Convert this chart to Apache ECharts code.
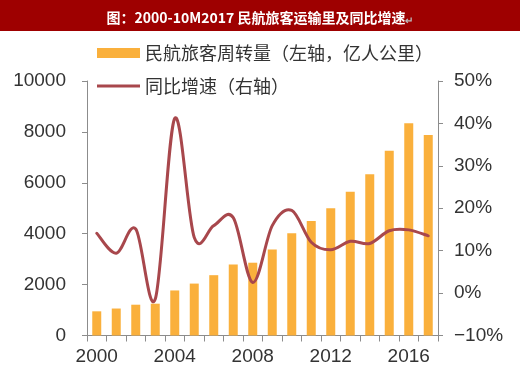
<!DOCTYPE html>
<html>
<head>
<meta charset="utf-8">
<script src="https://cdn.jsdelivr.net/npm/echarts@6/dist/echarts.min.js"></script>
<style>html,body{margin:0;padding:0;background:#fff;}#c{width:520px;height:388px;}</style>
</head>
<body>
<div id="c"></div>
<script>
const years = ['2000','2001','2002','2003','2004','2005','2006','2007','2008','2009','2010','2011','2012','2013','2014','2015','2016','2017'];
const passengerKm = [950, 1060, 1210, 1250, 1770, 2040, 2370, 2790, 2860, 3380, 4020, 4500, 5000, 5650, 6340, 7260, 8340, 7880];
const yoyGrowth = [14.1, 9.4, 15.1, -1.4, 41.2, 13.1, 15.9, 17.8, 2.5, 15.9, 19.5, 12.0, 10.2, 12.2, 11.7, 14.7, 14.9, 13.5];
const leftTicks = {min: 0, max: 10000, interval: 2000};
const rightTicks = {min: -10, max: 50, interval: 10};
const barName = '民航旅客周转量（左轴，亿人公里）';
const lineName = '同比增速（右轴）';
const titleText = '图：2000-10M2017 民航旅客运输里及同比增速';

const chart = echarts.init(document.getElementById('c'));
const axisColor = '#8c8c8c';
const labelColor = '#333';
const lineColor = '#A8474C';
const font = 'Liberation Sans, Arial, sans-serif';
const cjk = '"Noto Sans CJK SC", sans-serif';

// Smooth (Catmull-Rom style) line drawn through the axis scales
function renderSmoothLine(params, api) {
  if (params.dataIndex !== 0) return null;
  const pts = yoyGrowth.map((v, i) => api.coord([i, v]));
  const n = pts.length;
  let d = 'M' + pts[0][0] + ' ' + pts[0][1];
  for (let i = 0; i < n - 1; i++) {
    const p0 = pts[Math.max(i - 1, 0)], p1 = pts[i], p2 = pts[i + 1], p3 = pts[Math.min(i + 2, n - 1)];
    const c1 = [p1[0] + (p2[0] - p0[0]) / 6, p1[1] + (p2[1] - p0[1]) / 6];
    const c2 = [p2[0] - (p3[0] - p1[0]) / 6, p2[1] - (p3[1] - p1[1]) / 6];
    d += ' C' + c1[0] + ' ' + c1[1] + ' ' + c2[0] + ' ' + c2[1] + ' ' + p2[0] + ' ' + p2[1];
  }
  return {
    type: 'path',
    shape: {pathData: d},
    style: {fill: 'none', stroke: lineColor, lineWidth: 3, lineJoin: 'round', lineCap: 'round'},
    silent: true
  };
}

chart.setOption({
  animation: false,
  graphic: [{
    type: 'rect', shape: {x: 0, y: 0, width: 520, height: 31},
    style: {fill: '#9E0000'}, silent: true, z: 0
  }],
  title: {
    text: '{t|' + titleText + '}{m|↵}',
    left: 'center', top: 6,
    textStyle: {
      rich: {
        t: {color: '#fff', fontSize: 14, fontWeight: 'bold', fontFamily: cjk},
        m: {color: '#bbb', fontSize: 10, fontFamily: cjk, padding: [4, 0, 0, 0]}
      }
    }
  },
  legend: [{
    data: [barName], left: 97, top: 44, padding: 0, itemWidth: 43, itemHeight: 10, itemGap: 6,
    icon: 'rect',
    textStyle: {fontSize: 18, color: labelColor, fontFamily: cjk}
  }, {
    data: [{name: lineName, itemStyle: {color: lineColor}}], left: 97, top: 77, padding: 0, itemWidth: 43, itemHeight: 3, itemGap: 6,
    icon: 'rect',
    textStyle: {fontSize: 18, color: labelColor, fontFamily: cjk}
  }],
  grid: {left: 87, right: 82, top: 81, bottom: 52.5},
  xAxis: {
    type: 'category', data: years, boundaryGap: true,
    axisLine: {show: true, lineStyle: {color: axisColor, width: 1}},
    axisTick: {show: true, interval: 0, length: 6, lineStyle: {color: axisColor}},
    axisLabel: {interval: 3, fontSize: 19, color: labelColor, fontFamily: font, margin: 12}
  },
  yAxis: [{
    type: 'value', min: leftTicks.min, max: leftTicks.max, interval: leftTicks.interval,
    axisLine: {show: true, lineStyle: {color: axisColor}},
    axisTick: {show: true, length: 5, lineStyle: {color: axisColor}},
    splitLine: {show: false},
    axisLabel: {fontSize: 19, color: labelColor, fontFamily: font, margin: 21,
      formatter: v => String(v)}
  }, {
    type: 'value', min: rightTicks.min, max: rightTicks.max, interval: rightTicks.interval,
    position: 'right',
    axisLine: {show: true, lineStyle: {color: axisColor}},
    axisTick: {show: true, length: 5, lineStyle: {color: axisColor}},
    splitLine: {show: false},
    axisLabel: {fontSize: 19, color: labelColor, fontFamily: font, margin: 16,
      formatter: v => String(v).replace('-', '−') + '%'}
  }],
  series: [{
    name: barName, type: 'bar', data: passengerKm, yAxisIndex: 0,
    barWidth: 9, itemStyle: {color: '#FAB03C'}
  }, {
    name: lineName, type: 'custom', yAxisIndex: 1,
    data: yoyGrowth.map((v, i) => [i, v]),
    encode: {x: 0, y: 1},
    renderItem: renderSmoothLine,
    itemStyle: {color: lineColor},
    z: 3
  }]
});
</script>
</body>
</html>
